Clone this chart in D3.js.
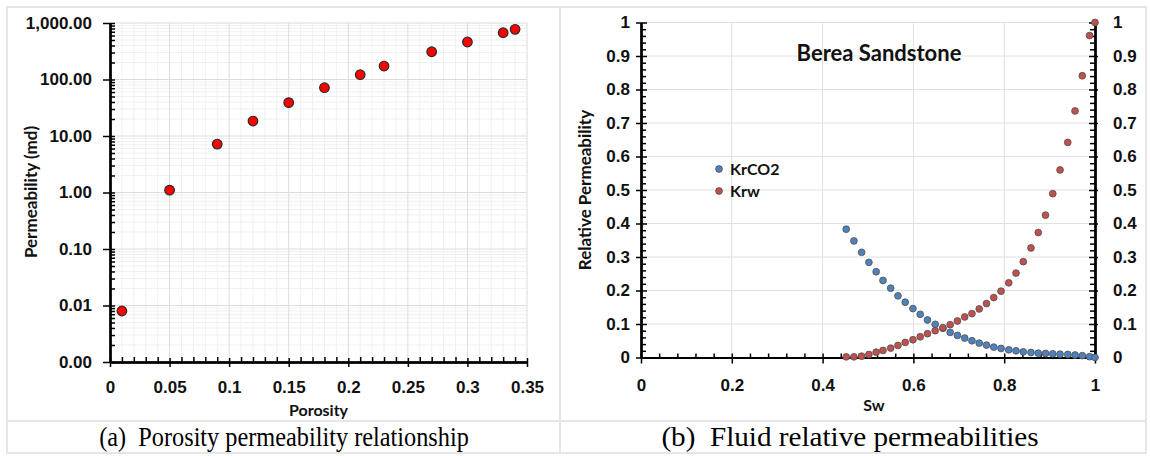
<!DOCTYPE html>
<html><head><meta charset="utf-8">
<script src="https://cdn.jsdelivr.net/npm/d3@7"></script>
<style>
body{margin:0;background:#fff;}
svg{display:block;font-family:Lato,"Open Sans",sans-serif;}
.tick text{font-weight:bold;font-size:17px;fill:#111;}
</style></head><body>
<svg id="c" width="1150" height="456"></svg>
<script>
// ---- Panel (a) data ----
const porosity=[0.01,0.05,0.09,0.12,0.15,0.18,0.21,0.23,0.27,0.30,0.33,0.34];
const permeability=[0.008,1.1,7.2,18.4,38.9,71.6,121.6,173,310,461,673,773];
const permTicks=[0.001,0.01,0.1,1,10,100,1000];
const porosityTicks=[0,0.05,0.1,0.15,0.2,0.25,0.3,0.35];

// ---- Panel (b) data ----
const sw=[0.452,0.469,0.486,0.502,0.518,0.533,0.550,0.566,0.582,0.599,0.615,0.631,0.648,0.665,0.681,0.697,0.713,
          0.729,0.745,0.761,0.777,0.793,0.810,0.826,0.842,0.859,0.875,0.891,0.907,0.923,0.940,0.956,0.972,0.988,1.0];
const krco2=[0.383,0.348,0.314,0.284,0.256,0.230,0.207,0.184,0.165,0.146,0.129,0.112,0.099,0.087,0.075,0.066,0.058,
          0.050,0.043,0.037,0.031,0.027,0.023,0.020,0.017,0.015,0.013,0.012,0.011,0.010,0.009,0.0075,0.0055,0.0025,0.0];
const krw=[0.002,0.002,0.004,0.009,0.016,0.021,0.028,0.036,0.045,0.053,0.062,0.071,0.080,0.089,0.098,0.109,0.121,
          0.131,0.145,0.161,0.179,0.198,0.223,0.252,0.286,0.327,0.373,0.425,0.489,0.560,0.642,0.736,0.841,0.961,1.0];
const swTicks=[0,0.2,0.4,0.6,0.8,1];
const krTicks=[0,0.1,0.2,0.3,0.4,0.5,0.6,0.7,0.8,0.9,1];
const seriesNames=["KrCO2","Krw"];
const captions=["(a)\u00a0\u00a0Porosity permeability relationship","(b)\u00a0\u00a0Fluid relative permeabilities"];

const svg=d3.select("#c");
const frame="#e6e6e6";

const fr=svg.append("g").attr("stroke",frame).attr("stroke-width",2).attr("fill","none");
fr.append("rect").attr("x",7).attr("y",7).attr("width",1139).attr("height",446);
fr.append("line").attr("x1",7).attr("x2",1146).attr("y1",421).attr("y2",421);
fr.append("line").attr("x1",560).attr("x2",560).attr("y1",7).attr("y2",453);

function styleAxis(g){
  g.select(".domain").attr("stroke","#000").attr("stroke-width",2);
  g.selectAll(".tick line").attr("stroke","#000").attr("stroke-width",1.5);
}

// ================= Panel (a) =================
const xL=d3.scaleLinear([0,0.35],[110,527]);
const yL=d3.scaleLog([0.001,1000],[362,23]);
const minorPerm=[];
permTicks.slice(0,-1).forEach(d=>{for(let k=2;k<=9;k++)minorPerm.push(d*k);});
const minorPor=d3.range(1,35).map(i=>i/100).filter(v=>Math.round(v*100)%5!==0);

const gA=svg.append("g");
gA.append("g").selectAll("line").data(minorPor).join("line")
  .attr("x1",d=>xL(d)).attr("x2",d=>xL(d)).attr("y1",yL(1000)).attr("y2",yL(0.001))
  .attr("stroke","#f0f0f0");
gA.append("g").selectAll("line").data(minorPerm).join("line")
  .attr("y1",d=>yL(d)).attr("y2",d=>yL(d)).attr("x1",xL(0)).attr("x2",xL(0.35))
  .attr("stroke","#f0f0f0");
gA.append("g").selectAll("line").data(porosityTicks.slice(1)).join("line")
  .attr("x1",d=>xL(d)).attr("x2",d=>xL(d)).attr("y1",yL(1000)).attr("y2",yL(0.001))
  .attr("stroke","#dcdcdc");
gA.append("g").selectAll("line").data(permTicks.slice(1)).join("line")
  .attr("y1",d=>yL(d)).attr("y2",d=>yL(d)).attr("x1",xL(0)).attr("x2",xL(0.35))
  .attr("stroke","#dcdcdc");

const ayL=gA.append("g").attr("transform",`translate(${xL(0)},0)`);
ayL.append("g").call(d3.axisLeft(yL).tickValues(minorPerm).tickSize(-5).tickSizeOuter(0).tickFormat(""));
ayL.append("g").call(d3.axisLeft(yL).tickValues(permTicks).tickSize(-5).tickSizeOuter(0).tickFormat(""));
ayL.append("g").call(d3.axisLeft(yL).tickValues(permTicks).tickSize(7).tickSizeOuter(0).tickPadding(11).tickFormat(d3.format(",.2f")));
ayL.selectAll("g").each(function(){styleAxis(d3.select(this));});

const axL=gA.append("g").attr("transform",`translate(0,${yL(0.001)})`);
axL.append("g").call(d3.axisBottom(xL).tickValues(minorPor).tickSize(-5).tickSizeOuter(0).tickFormat(""));
axL.append("g").call(d3.axisBottom(xL).tickValues(porosityTicks).tickSize(-4).tickSizeOuter(0).tickFormat(""));
axL.append("g").call(d3.axisBottom(xL).tickValues(porosityTicks).tickSize(5).tickSizeOuter(0).tickPadding(14).tickFormat(d=>String(d)));
axL.selectAll("g").each(function(){styleAxis(d3.select(this));});

gA.append("text").attr("x",(xL(0)+xL(0.35))/2).attr("y",416).attr("text-anchor","middle")
  .attr("font-weight","bold").attr("font-size",16).attr("fill","#111").text("Porosity");
gA.append("text").attr("transform",`translate(37,192) rotate(-90)`).attr("text-anchor","middle")
  .attr("font-weight","bold").attr("font-size",17).attr("fill","#111").text("Permeability (md)");

gA.append("g").selectAll("circle").data(porosity.map((p,i)=>[p,permeability[i]])).join("circle")
  .attr("cx",d=>xL(d[0])).attr("cy",d=>yL(d[1])).attr("r",4.8)
  .attr("fill","#ff0000").attr("stroke","#2a2a2a").attr("stroke-width",1.2);

// ================= Panel (b) =================
const xR=d3.scaleLinear([0,1],[641,1095]);
const yR=d3.scaleLinear([0,1],[357.5,22.5]);
const minorKr=d3.range(1,50).map(i=>i/50).filter(v=>Math.round(v*50)%5!==0);
const minorSw=d3.range(1,25).map(i=>i/25).filter(v=>Math.round(v*25)%5!==0);

const gB=svg.append("g");
gB.append("g").selectAll("line").data(krTicks.slice(1)).join("line")
  .attr("y1",d=>yR(d)).attr("y2",d=>yR(d)).attr("x1",xR(0)).attr("x2",xR(1)).attr("stroke","#e0e0e0");
gB.append("g").selectAll("line").data(swTicks.slice(1,-1)).join("line")
  .attr("x1",d=>xR(d)).attr("x2",d=>xR(d)).attr("y1",yR(0)).attr("y2",yR(1)).attr("stroke","#e0e0e0");

const fmt1=d=>String(+d.toFixed(1));
const ayR=gB.append("g").attr("transform",`translate(${xR(0)},0)`);
ayR.append("g").call(d3.axisLeft(yR).tickValues(minorKr).tickSize(-5).tickSizeOuter(0).tickFormat(""));
ayR.append("g").call(d3.axisLeft(yR).tickValues(krTicks).tickSize(-6).tickSizeOuter(0).tickFormat(""));
ayR.append("g").call(d3.axisLeft(yR).tickValues(krTicks).tickSize(5).tickSizeOuter(0).tickPadding(6).tickFormat(fmt1));
ayR.selectAll("g").each(function(){styleAxis(d3.select(this));});

const ayR2=gB.append("g").attr("transform",`translate(${xR(1)},0)`);
ayR2.append("g").call(d3.axisRight(yR).tickValues(minorKr).tickSize(-5).tickSizeOuter(0).tickFormat(""));
ayR2.append("g").call(d3.axisRight(yR).tickValues(krTicks).tickSize(-6).tickSizeOuter(0).tickFormat(""));
ayR2.append("g").call(d3.axisRight(yR).tickValues(krTicks).tickSize(3).tickSizeOuter(0).tickPadding(15).tickFormat(fmt1));
ayR2.selectAll("g").each(function(){styleAxis(d3.select(this));});

const axR=gB.append("g").attr("transform",`translate(0,${yR(0)})`);
axR.append("g").call(d3.axisBottom(xR).tickValues(minorSw).tickSize(-4).tickSizeOuter(0).tickFormat(""));
axR.append("g").call(d3.axisBottom(xR).tickValues(swTicks).tickSize(-4).tickSizeOuter(0).tickFormat(""));
axR.append("g").call(d3.axisBottom(xR).tickValues(swTicks).tickSize(6).tickSizeOuter(0).tickPadding(15).tickFormat(fmt1));
axR.selectAll("g").each(function(){styleAxis(d3.select(this));});

gB.append("text").attr("x",874).attr("y",411).attr("text-anchor","middle")
  .attr("font-weight","bold").attr("font-size",16).attr("fill","#111").text("Sw");
gB.append("text").attr("transform",`translate(591,190) rotate(-90)`).attr("text-anchor","middle")
  .attr("font-weight","bold").attr("font-size",17).attr("fill","#111").text("Relative Permeability");
gB.append("text").attr("x",879).attr("y",61).attr("text-anchor","middle")
  .attr("font-weight","bold").attr("font-size",22).attr("fill","#111").text("Berea Sandstone");

const colors=["#4f81bd","#c0504d"];
[krco2,krw].forEach((s,k)=>{
  gB.append("g").selectAll("circle").data(sw.map((x,i)=>[x,s[i]])).join("circle")
    .attr("cx",d=>xR(d[0])).attr("cy",d=>yR(d[1])).attr("r",3.4)
    .attr("fill",colors[k]).attr("stroke","#505050").attr("stroke-width",0.8);
});
const lg=gB.append("g").attr("transform","translate(719,169)");
seriesNames.forEach((n,k)=>{
  lg.append("circle").attr("cx",0).attr("cy",k*22).attr("r",3.4).attr("fill",colors[k]).attr("stroke","#505050").attr("stroke-width",0.8);
  lg.append("text").attr("x",11).attr("y",k*22).attr("dy","0.35em").attr("font-weight","bold").attr("font-size",16).attr("fill","#111").text(n);
});

[[284,0.9],[850,1.08]].forEach(([cx,sx],i)=>{
  svg.append("text").attr("transform",`translate(${cx},446) scale(${sx},1)`).attr("text-anchor","middle")
    .attr("font-family","'Liberation Serif','Times New Roman',serif").attr("font-size",27).attr("fill","#000")
    .text(captions[i]);
});
</script></body></html>
